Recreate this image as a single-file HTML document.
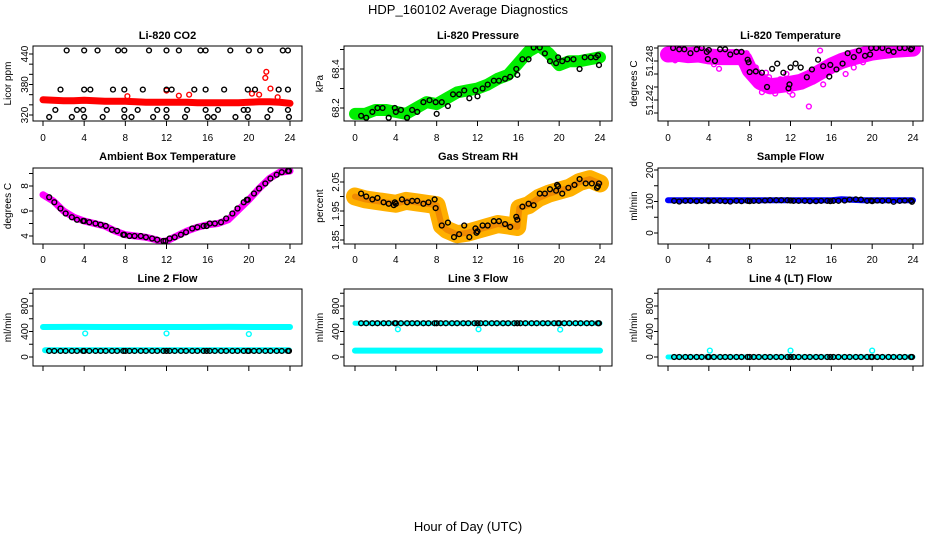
<!DOCTYPE html>
<html><head><meta charset="utf-8"><style>
html,body{margin:0;padding:0;background:#fff;}
svg{display:block;font-family:"Liberation Sans",sans-serif;}
</style></head><body>
<svg id="chart" width="936" height="540" viewBox="0 0 936 540" xmlns="http://www.w3.org/2000/svg">
<text x="468" y="14" text-anchor="middle" font-size="13">HDP_160102  Average Diagnostics</text>
<text x="468" y="531" text-anchor="middle" font-size="13">Hour of Day (UTC)</text>
</svg>
<script>
// ---- data ----
const xTicks = [0,4,8,12,16,20,24];
// CO2
const co2BandT = [0,1,2,3,4,5,6,7,8,9,10,11,12,13,14,15,16,17,18,19,20,21,22,23,24];
const co2BandV = [350,349,348,348,349,348,347,347,347,346,345,345,345,345,345,344,344,344,344,344,345,346,346,345,343];
const co2RedT = [21.7,21.6,22.1,12,13.2,14.2,21,22.8,20.3,8.2];
const co2RedV = [405,393,372,368,358,360,360,355,362,357];
const co2BlkT = [2.3,4,5.3,7.3,7.9,10.3,12,13.2,15.3,15.8,18.2,20,21.1,23.3,23.8, 1.7,4,4.6,6.8,7.9,9.7,12,12.5,14.7,15.8,17.6,19.9,20.6,22.9,23.8, 1.2,3.3,3.9,6.2,7.9,9.2,11.1,12,14,15.8,17,19.5,19.9,22.1,23.8, 0.6,2.8,4,5.8,7.9,8.6,10.7,12,13.8,16,16.6,18.7,19.9,21.8,23.9];
const co2BlkV = [447,447,447,447,447,447,447,447,447,447,447,447,447,447,447, 370,370,370,370,370,370,370,370,370,370,370,370,370,370,370, 330,330,330,330,330,330,330,330,330,330,330,330,330,330,330, 316,316,316,316,316,316,316,316,316,316,316,316,316,316,316];
// Pressure
const prT = [0,1,2,3,4,5,6,7,8,9,10,11,12,13,14,15,16,17,18,19,20,21,22,23,24];
const prV = [68.17,68.17,68.19,68.19,68.18,68.17,68.2,68.23,68.22,68.25,68.28,68.29,68.3,68.32,68.35,68.37,68.43,68.49,68.52,68.48,68.42,68.44,68.44,68.45,68.46];
const prBlkT = [0.6,1.1,1.7,2.2,2.7,3.3,3.9,4.0,4.5,5.1,5.6,6.1,6.7,7.3,7.9,8.0,8.5,9.1,9.6,10.2,10.7,11.2,11.8,12.0,12.5,13.0,13.6,14.1,14.7,15.2,15.8,15.9,16.4,17.0,17.5,18.1,18.6,19.1,19.7,19.9,20.3,20.8,21.4,22.0,22.5,23.1,23.6,23.8,23.9];
const prBlkV = [68.16,68.15,68.18,68.2,68.2,68.15,68.2,68.18,68.19,68.15,68.19,68.18,68.23,68.24,68.23,68.17,68.23,68.21,68.27,68.27,68.29,68.25,68.29,68.26,68.3,68.32,68.34,68.34,68.35,68.36,68.4,68.37,68.45,68.45,68.51,68.51,68.48,68.44,68.43,68.46,68.44,68.45,68.45,68.4,68.46,68.46,68.46,68.47,68.42];
// Li temperature
const ltT = [0,1,2,3,4,5,6,7,7.5,8,9,10,11,12,13,14,15,16,17,18,19,20,21,22,23,24];
const ltV = [51.2490,51.2491,51.2489,51.2490,51.2487,51.2486,51.2486,51.2486,51.2483,51.2466,51.2448,51.2441,51.2443,51.2445,51.2448,51.2455,51.2464,51.2473,51.2480,51.2485,51.2489,51.2493,51.2495,51.2497,51.2498,51.2499];
const ltMagT = [0.3,0.7,1.5,2.2,3.0,4.5,5.0,6.2,7.7,8.1,8.6,9.2,9.9,10.5,11.0,11.6,12.2,12.8,13.4,13.8,14.5,15.2,15.9,16.6,17.4,18.2,19.1,19.6,14.9,11.9,10.2,9.6,3.4];
const ltMagV = [51.2484,51.2481,51.2487,51.2494,51.2496,51.2475,51.2468,51.2488,51.2492,51.2460,51.2470,51.2432,51.2455,51.2430,51.2452,51.2460,51.2428,51.2440,51.2450,51.2410,51.2462,51.2444,51.2466,51.2482,51.2460,51.2470,51.2478,51.2490,51.2496,51.2433,51.2440,51.2462,51.2495];
const ltBlkT = [0.5,1.1,1.6,2.2,2.8,3.3,3.8,3.9,4.0,4.6,5.1,5.6,6.1,6.7,7.2,7.8,7.9,8.0,8.6,9.2,9.7,10.2,10.7,11.3,11.9,11.8,12.0,12.5,13.0,13.6,14.1,14.7,15.2,15.8,15.9,16.5,17.1,17.6,18.2,18.7,19.3,19.8,19.9,20.4,21.0,21.6,22.1,22.7,23.2,23.8,23.9];
const ltBlkV = [51.2500,51.2498,51.2498,51.2492,51.2498,51.2500,51.2494,51.2483,51.2497,51.2480,51.2498,51.2498,51.2490,51.2494,51.2494,51.2482,51.2478,51.2463,51.2464,51.2462,51.2440,51.2468,51.2476,51.2462,51.2444,51.2438,51.2470,51.2476,51.2470,51.2455,51.2467,51.2482,51.2472,51.2456,51.2474,51.2467,51.2476,51.2492,51.2486,51.2496,51.2488,51.2490,51.2500,51.2500,51.2500,51.2496,51.2494,51.2500,51.2500,51.2498,51.2500];
// Ambient box temperature
const abT = [0,1,2,3,4,5,6,7,8,9,10,11,11.5,12,13,14,15,16,17,18,19,20,21,22,23,24];
const abV = [7.3,6.8,6.0,5.5,5.2,5.0,4.8,4.4,4.1,4.0,3.9,3.7,3.55,3.6,4.0,4.4,4.7,4.9,5.0,5.3,6.1,6.9,7.8,8.6,9.1,9.2];
const abBlkT = [0.6,1.1,1.7,2.2,2.8,3.3,3.9,4.0,4.5,5.1,5.6,6.1,6.7,7.2,7.8,7.9,8.4,8.9,9.5,10.0,10.6,11.1,11.7,11.9,12.3,12.8,13.4,13.9,14.5,15.0,15.6,15.9,16.2,16.7,17.3,17.8,18.4,18.9,19.5,19.8,19.9,20.5,21.0,21.6,22.1,22.7,23.2,23.8,23.9];
const abBlkV = [7.1,6.7,6.2,5.8,5.5,5.3,5.2,5.2,5.1,5.0,4.9,4.8,4.5,4.4,4.1,4.1,4.0,4.0,4.0,3.9,3.8,3.7,3.6,3.6,3.8,3.9,4.1,4.3,4.6,4.7,4.8,4.8,5.0,5.0,5.1,5.4,5.8,6.2,6.7,6.9,6.9,7.4,7.8,8.2,8.6,8.9,9.1,9.2,9.2];
// Gas stream RH
const rhT = [0,1,2,3,4,5,6,7,8,8.5,9,10,11,12,13,14,15,15.9,16.1,17,18,19,20,21,22,23,24];
const rhV = [2.0,1.99,1.985,1.98,1.975,1.985,1.98,1.975,1.97,1.90,1.885,1.87,1.875,1.885,1.895,1.905,1.90,1.895,1.96,1.97,1.995,2.01,2.02,2.03,2.05,2.06,2.045];
const rhBlkT = [0.6,1.1,1.7,2.2,2.8,3.3,3.8,3.9,4.0,4.6,5.1,5.6,6.1,6.7,7.2,7.8,7.9,8.5,9.1,9.7,10.2,10.7,11.2,11.8,11.9,12.0,12.5,13.0,13.6,14.1,14.7,15.2,15.8,15.9,16.4,17.0,17.5,18.1,18.6,19.1,19.7,19.8,19.9,20.3,20.9,21.5,22.0,22.6,23.2,23.7,23.8,23.9];
const rhBlkV = [2.01,2.0,1.99,1.995,1.98,1.975,1.97,1.98,1.975,1.99,1.98,1.985,1.985,1.975,1.98,1.99,1.96,1.90,1.91,1.86,1.87,1.90,1.86,1.89,1.875,1.88,1.90,1.90,1.915,1.915,1.905,1.895,1.93,1.92,1.965,1.975,1.97,2.01,2.01,2.025,2.02,2.04,2.035,2.01,2.03,2.04,2.06,2.045,2.045,2.03,2.035,2.045];
// Flows
const flowT = [0.6,1.1,1.7,2.2,2.8,3.3,3.9,4.0,4.5,5.1,5.6,6.1,6.7,7.2,7.8,8.0,8.4,8.9,9.5,10.0,10.6,11.1,11.7,12.0,12.3,12.8,13.4,13.9,14.5,15.0,15.6,15.9,16.2,16.7,17.3,17.8,18.4,18.9,19.5,19.9,20.0,20.5,21.0,21.6,22.1,22.7,23.2,23.8,23.9];
const sfBlkV = [102,100,102,102,101,102,103,101,102,102,101,100,102,101,102,101,102,102,103,104,104,104,104,103,102,102,102,101,101,102,102,101,102,102,103,106,107,106,102,103,101,103,102,103,99,102,103,103,99];
const sfBandT = [0,4,8,12,16,17,19,24];
const sfBandV = [104,104,104,104,104,107,104,104];
const l2CyanV = [470,472,471,470,470,470,472,470,470];
const l2CyanT = [0,3,6,9,12,15,18,21,24];
const l2OutT = [4.1,12.0,20.0];
const l2OutV = [370,370,360];
const l2LowV = 95;
const l3HighV = 530;
const l3OutT = [4.2,12.1,20.1];
const l3OutV = [435,435,430];
const l3LowV = 100;
const l4OutT = [4.1,12.0,20.0];
const l4OutV = [100,100,100];

// ---- layout ----
const svg = document.getElementById('chart');
const NS = 'http://www.w3.org/2000/svg';
const cols = [{bx0:33,bx1:302,x0:43,x24:290,ylabX:11},{bx0:344,bx1:612,x0:355,x24:600,ylabX:323},{bx0:658,bx1:923,x0:668,x24:913,ylabX:637}];
const rows = [{by0:46,by1:121,title:39,tl:141},{by0:168,by1:244,title:160,tl:263},{by0:289,by1:366,title:282,tl:0}];

function mk(tag, attrs, parent){
  const e = document.createElementNS(NS, tag);
  for (const k in attrs) e.setAttribute(k, attrs[k]);
  (parent||svg).appendChild(e);
  return e;
}

function panel(ci, ri, name, title, ylab, ref, ticks, labels, fmt){
  const c = cols[ci], r = rows[ri];
  const g = mk('g', {});
  
  
  const xs = t => c.x0 + (c.x24 - c.x0) * t / 24;
  const ys = v => ref[1] + (v - ref[0]) * (ref[3] - ref[1]) / (ref[2] - ref[0]);
  const t = mk('text', {x:(c.bx0+c.bx1)/2, y:r.title, 'text-anchor':'middle', 'font-size':11, 'font-weight':'bold'}, g);
  t.textContent = title;
  
  
  const yl = mk('text', {x:c.ylabX, y:(r.by0+r.by1)/2, 'text-anchor':'middle', 'font-size':10, transform:`rotate(-90 ${c.ylabX} ${(r.by0+r.by1)/2})`}, g);
  yl.textContent = ylab;
  
  
  const marks = mk('g', {}, g);
  
  
  const box = mk('rect', {x:c.bx0, y:r.by0, width:c.bx1-c.bx0, height:r.by1-r.by0, fill:'none', stroke:'#000', 'stroke-width':1}, g);
  
  
  // x axis
  const xa = mk('g', {}, g);
  
  
  xTicks.forEach(v => {
    mk('line', {x1:xs(v), x2:xs(v), y1:r.by1, y2:r.by1+5, stroke:'#000'}, xa);
    if (r.tl) { const l = mk('text', {x:xs(v), y:r.tl, 'text-anchor':'middle', 'font-size':10}, xa); l.textContent = v; }
  });
  // y axis
  const ya = mk('g', {}, g);
  
  
  const ax = c.bx0;
  ticks.forEach(v => mk('line', {x1:ax-4, x2:ax, y1:ys(v), y2:ys(v), stroke:'#000'}, ya));
  const lx = ax - 5;
  labels.forEach(v => {
    const y = ys(v);
    const l = mk('text', {x:lx, y:y, 'text-anchor':'middle', 'font-size':10, transform:`rotate(-90 ${lx} ${y})`}, ya);
    l.textContent = fmt ? fmt(v) : v;
  });
  const clip = 'clip' + ci + ri;
  const cp = mk('clipPath', {id:clip}, g);
  mk('rect', {x:c.bx0, y:r.by0, width:c.bx1-c.bx0, height:r.by1-r.by0}, cp);
  marks.setAttribute('clip-path', `url(#${clip})`);
  return {xs, ys, marks};
}

function band(p, T, V, color, w){
  const pl = mk('polyline', {points:T.map((t,i)=>p.xs(t)+','+p.ys(V[i])).join(' '), fill:'none', stroke:color, 'stroke-width':w, 'stroke-linecap':'round', 'stroke-linejoin':'round'}, p.marks);
  
  
}
function pts(p, T, V, color, name){
  const g = mk('g', {fill:'none', stroke:color, 'stroke-width':1.4}, p.marks);
  
  
  T.forEach((t,i) => mk('circle', {cx:p.xs(t), cy:p.ys(Array.isArray(V)?V[i]:V), r:2.4}, g));
}

// Panel 1
let p = panel(0,0,'co2-panel','Li-820 CO2','Licor ppm',[320,115,440,54],[320,340,360,380,400,420,440],[320,380,440]);
band(p, co2BandT, co2BandV, '#ff0000', 7);
pts(p, co2RedT, co2RedV, '#ff0000', 'co2-red-points');
pts(p, co2BlkT, co2BlkV, '#000', 'co2-black-points');
// Panel 2
p = panel(1,0,'pressure-panel','Li-820 Pressure','kPa',[68.2,108,68.4,69],[68.2,68.3,68.4,68.5],[68.2,68.4],v=>v.toFixed(1));
band(p, prT, prV, '#00ee00', 12);
pts(p, prBlkT, prBlkV, '#000', 'pressure-black-points');
// Panel 3
p = panel(2,0,'li-temp-panel','Li-820 Temperature','degrees C',[51.242,100,51.248,61],[51.240,51.242,51.244,51.246,51.248,51.250],[51.242,51.248],v=>v.toFixed(3));
band(p, ltT, ltV, '#ff00ff', 16);
pts(p, ltMagT, ltMagV, '#ff00ff', 'li-temp-magenta-points');
pts(p, ltBlkT, ltBlkV, '#000', 'li-temp-black-points');
// Panel 4
p = panel(0,1,'ambient-temp-panel','Ambient Box Temperature','degrees C',[4,236,8,186],[4,5,6,7,8,9],[4,6,8]);
band(p, abT, abV, '#ff00ff', 7);
pts(p, abBlkT, abBlkV, '#000', 'ambient-black-points');
// Panel 5
p = panel(1,1,'rh-panel','Gas Stream RH','percent',[1.85,240,2.05,182],[1.85,1.90,1.95,2.00,2.05],[1.85,1.95,2.05],v=>v.toFixed(2));
band(p, rhT, rhV, '#ffb000', 18);
band(p, rhT, rhV, '#f08a00', 6);
pts(p, rhBlkT, rhBlkV, '#000', 'rh-black-points');
// Panel 6
p = panel(2,1,'sample-flow-panel','Sample Flow','ml/min',[0,233,200,170],[0,50,100,150,200],[0,100,200]);
band(p, sfBandT, sfBandV, '#0000ff', 6);
pts(p, flowT, sfBlkV, '#000', 'sample-flow-black-points');
// Panel 7
p = panel(0,2,'line2-flow-panel','Line 2 Flow','ml/min',[0,357,800,306],[0,200,400,600,800,1000],[0,400,800]);
band(p, l2CyanT, l2CyanV, '#00ffff', 6);
band(p, [0.2,23.9], [l2LowV+10,l2LowV+10], '#00ffff', 6);
pts(p, l2OutT, l2OutV, '#00ffff', 'line2-outliers');
pts(p, flowT, l2LowV, '#000', 'line2-black-points');
// Panel 8
p = panel(1,2,'line3-flow-panel','Line 3 Flow','ml/min',[0,357,800,306],[0,200,400,600,800,1000],[0,400,800]);
band(p, [0,24], [l3LowV,l3LowV], '#00ffff', 6);
band(p, [0,24], [l3HighV,l3HighV], '#00ffff', 5);
pts(p, l3OutT, l3OutV, '#00ffff', 'line3-outliers');
pts(p, flowT, l3HighV, '#000', 'line3-black-points');
// Panel 9
p = panel(2,2,'line4-flow-panel','Line 4 (LT) Flow','ml/min',[0,357,800,306],[0,200,400,600,800,1000],[0,400,800]);
band(p, [0,24], [0,0], '#00ffff', 5);
pts(p, l4OutT, l4OutV, '#00ffff', 'line4-outliers');
pts(p, flowT, 0, '#000', 'line4-black-points');
</script>
</body></html>
